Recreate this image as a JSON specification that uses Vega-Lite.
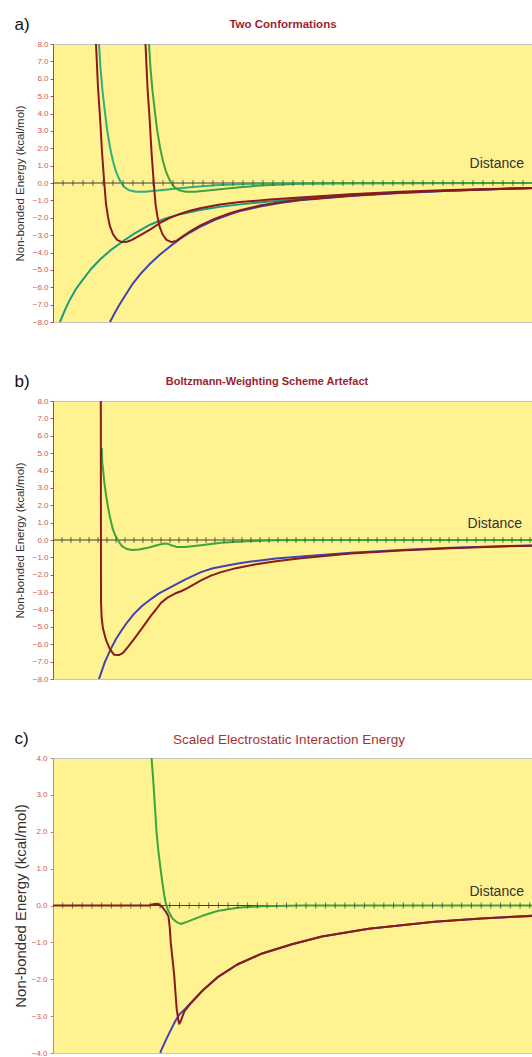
{
  "$schema": "https://vega.github.io/schema/vega-lite/v6.json",
  "background": "white",
  "padding": {"left": 12, "top": 14, "right": 0, "bottom": 0},
  "spacing": 44,
  "config": {
    "font": "Liberation Sans",
    "view": {"fill": "#fff290", "stroke": "#c4c4c4", "strokeWidth": 1}
  },
  "datasets": {
    "a": [
      {"s":"elec1","t":0.6,"v":-8.2},{"s":"elec1","t":0.7,"v":-8.0},{"s":"elec1","t":1.2,"v":-7.3},{"s":"elec1","t":1.7,"v":-6.7},{"s":"elec1","t":2.3,"v":-6.1},{"s":"elec1","t":3.0,"v":-5.55},{"s":"elec1","t":3.8,"v":-4.95},{"s":"elec1","t":4.7,"v":-4.4},{"s":"elec1","t":5.8,"v":-3.85},{"s":"elec1","t":7.0,"v":-3.35},{"s":"elec1","t":8.3,"v":-2.85},{"s":"elec1","t":9.7,"v":-2.4},{"s":"elec1","t":11.2,"v":-2.05},{"s":"elec1","t":12.7,"v":-1.8},{"s":"elec1","t":14.7,"v":-1.55},{"s":"elec1","t":16.7,"v":-1.37},{"s":"elec1","t":18.7,"v":-1.23},{"s":"elec1","t":21.7,"v":-1.06},{"s":"elec1","t":24.7,"v":-0.92},{"s":"elec1","t":29.7,"v":-0.72},{"s":"elec1","t":34.7,"v":-0.56},{"s":"elec1","t":39.7,"v":-0.44},{"s":"elec1","t":44.7,"v":-0.34},{"s":"elec1","t":48,"v":-0.29},
      {"s":"elec2","t":5.6,"v":-8.2},{"s":"elec2","t":5.7,"v":-8.0},{"s":"elec2","t":6.2,"v":-7.45},{"s":"elec2","t":6.7,"v":-6.95},{"s":"elec2","t":7.3,"v":-6.4},{"s":"elec2","t":8.0,"v":-5.77},{"s":"elec2","t":8.8,"v":-5.2},{"s":"elec2","t":9.7,"v":-4.65},{"s":"elec2","t":10.7,"v":-4.12},{"s":"elec2","t":11.7,"v":-3.65},{"s":"elec2","t":12.7,"v":-3.22},{"s":"elec2","t":13.7,"v":-2.85},{"s":"elec2","t":14.7,"v":-2.52},{"s":"elec2","t":16.2,"v":-2.12},{"s":"elec2","t":17.7,"v":-1.8},{"s":"elec2","t":18.7,"v":-1.62},{"s":"elec2","t":20.7,"v":-1.35},{"s":"elec2","t":22.7,"v":-1.15},{"s":"elec2","t":24.7,"v":-1.0},{"s":"elec2","t":29.7,"v":-0.75},{"s":"elec2","t":34.7,"v":-0.57},{"s":"elec2","t":39.7,"v":-0.44},{"s":"elec2","t":44.7,"v":-0.35},{"s":"elec2","t":48,"v":-0.3},
      {"s":"vdw1","t":4.55,"v":9},{"s":"vdw1","t":4.6,"v":8},{"s":"vdw1","t":4.75,"v":6.6},{"s":"vdw1","t":4.95,"v":5.3},{"s":"vdw1","t":5.15,"v":4.3},{"s":"vdw1","t":5.4,"v":3.1},{"s":"vdw1","t":5.7,"v":2.05},{"s":"vdw1","t":6.0,"v":1.25},{"s":"vdw1","t":6.3,"v":0.65},{"s":"vdw1","t":6.7,"v":0.12},{"s":"vdw1","t":7.1,"v":-0.22},{"s":"vdw1","t":7.6,"v":-0.42},{"s":"vdw1","t":8.3,"v":-0.5},{"s":"vdw1","t":9.2,"v":-0.5},{"s":"vdw1","t":10.2,"v":-0.45},{"s":"vdw1","t":11.7,"v":-0.36},{"s":"vdw1","t":13.7,"v":-0.24},{"s":"vdw1","t":16.2,"v":-0.13},{"s":"vdw1","t":19.7,"v":-0.05},{"s":"vdw1","t":24.7,"v":-0.01},{"s":"vdw1","t":48,"v":0},
      {"s":"vdw2","t":9.55,"v":9},{"s":"vdw2","t":9.6,"v":8},{"s":"vdw2","t":9.75,"v":6.6},{"s":"vdw2","t":9.95,"v":5.3},{"s":"vdw2","t":10.15,"v":4.3},{"s":"vdw2","t":10.4,"v":3.1},{"s":"vdw2","t":10.7,"v":2.05},{"s":"vdw2","t":11.0,"v":1.25},{"s":"vdw2","t":11.3,"v":0.65},{"s":"vdw2","t":11.7,"v":0.12},{"s":"vdw2","t":12.1,"v":-0.22},{"s":"vdw2","t":12.6,"v":-0.42},{"s":"vdw2","t":13.3,"v":-0.5},{"s":"vdw2","t":14.2,"v":-0.5},{"s":"vdw2","t":15.2,"v":-0.45},{"s":"vdw2","t":16.7,"v":-0.36},{"s":"vdw2","t":18.7,"v":-0.24},{"s":"vdw2","t":21.2,"v":-0.13},{"s":"vdw2","t":24.7,"v":-0.05},{"s":"vdw2","t":29.7,"v":-0.01},{"s":"vdw2","t":48,"v":0},
      {"s":"total1","t":4.25,"v":9},{"s":"total1","t":4.3,"v":8},{"s":"total1","t":4.5,"v":5.5},{"s":"total1","t":4.7,"v":3.8},{"s":"total1","t":4.9,"v":1.8},{"s":"total1","t":5.1,"v":0.2},{"s":"total1","t":5.3,"v":-1.2},{"s":"total1","t":5.5,"v":-1.95},{"s":"total1","t":5.7,"v":-2.5},{"s":"total1","t":6.0,"v":-2.95},{"s":"total1","t":6.4,"v":-3.27},{"s":"total1","t":6.9,"v":-3.4},{"s":"total1","t":7.4,"v":-3.38},{"s":"total1","t":7.9,"v":-3.27},{"s":"total1","t":8.7,"v":-3.02},{"s":"total1","t":9.7,"v":-2.68},{"s":"total1","t":10.7,"v":-2.3},{"s":"total1","t":11.7,"v":-2.0},{"s":"total1","t":12.7,"v":-1.78},{"s":"total1","t":13.7,"v":-1.6},{"s":"total1","t":14.7,"v":-1.45},{"s":"total1","t":16.7,"v":-1.24},{"s":"total1","t":18.7,"v":-1.1},{"s":"total1","t":21.7,"v":-0.95},{"s":"total1","t":24.7,"v":-0.83},{"s":"total1","t":29.7,"v":-0.65},{"s":"total1","t":34.7,"v":-0.51},{"s":"total1","t":39.7,"v":-0.41},{"s":"total1","t":44.7,"v":-0.33},{"s":"total1","t":48,"v":-0.28},
      {"s":"total2","t":9.2,"v":9},{"s":"total2","t":9.25,"v":8},{"s":"total2","t":9.45,"v":5.5},{"s":"total2","t":9.65,"v":3.8},{"s":"total2","t":9.85,"v":1.8},{"s":"total2","t":10.05,"v":0.2},{"s":"total2","t":10.25,"v":-1.2},{"s":"total2","t":10.45,"v":-1.95},{"s":"total2","t":10.65,"v":-2.5},{"s":"total2","t":10.95,"v":-2.95},{"s":"total2","t":11.35,"v":-3.27},{"s":"total2","t":11.85,"v":-3.4},{"s":"total2","t":12.35,"v":-3.33},{"s":"total2","t":13.0,"v":-3.05},{"s":"total2","t":13.8,"v":-2.75},{"s":"total2","t":14.7,"v":-2.45},{"s":"total2","t":16.2,"v":-2.05},{"s":"total2","t":17.7,"v":-1.74},{"s":"total2","t":18.7,"v":-1.57},{"s":"total2","t":20.7,"v":-1.3},{"s":"total2","t":22.7,"v":-1.11},{"s":"total2","t":24.7,"v":-0.97},{"s":"total2","t":29.7,"v":-0.73},{"s":"total2","t":34.7,"v":-0.55},{"s":"total2","t":39.7,"v":-0.43},{"s":"total2","t":44.7,"v":-0.34},{"s":"total2","t":48,"v":-0.29}
    ],
    "b": [
      {"s":"elec","t":4.5,"v":-8.3},{"s":"elec","t":4.6,"v":-8.0},{"s":"elec","t":5.2,"v":-7.0},{"s":"elec","t":5.8,"v":-6.25},{"s":"elec","t":6.3,"v":-5.7},{"s":"elec","t":6.8,"v":-5.25},{"s":"elec","t":7.4,"v":-4.75},{"s":"elec","t":8.1,"v":-4.25},{"s":"elec","t":8.9,"v":-3.8},{"s":"elec","t":9.8,"v":-3.4},{"s":"elec","t":10.6,"v":-3.07},{"s":"elec","t":11.5,"v":-2.8},{"s":"elec","t":12.4,"v":-2.52},{"s":"elec","t":13.3,"v":-2.25},{"s":"elec","t":14.8,"v":-1.85},{"s":"elec","t":16.0,"v":-1.63},{"s":"elec","t":17.3,"v":-1.48},{"s":"elec","t":18.5,"v":-1.35},{"s":"elec","t":19.8,"v":-1.24},{"s":"elec","t":22.3,"v":-1.07},{"s":"elec","t":24.8,"v":-0.95},{"s":"elec","t":29.8,"v":-0.73},{"s":"elec","t":34.8,"v":-0.57},{"s":"elec","t":39.8,"v":-0.45},{"s":"elec","t":44.8,"v":-0.36},{"s":"elec","t":48,"v":-0.32},
      {"s":"vdw","t":4.88,"v":5.3},{"s":"vdw","t":4.92,"v":4.5},{"s":"vdw","t":5.0,"v":4.1},{"s":"vdw","t":5.13,"v":3.33},{"s":"vdw","t":5.3,"v":2.6},{"s":"vdw","t":5.47,"v":2.0},{"s":"vdw","t":5.7,"v":1.3},{"s":"vdw","t":5.97,"v":0.65},{"s":"vdw","t":6.2,"v":0.3},{"s":"vdw","t":6.47,"v":0.0},{"s":"vdw","t":6.9,"v":-0.35},{"s":"vdw","t":7.4,"v":-0.52},{"s":"vdw","t":7.9,"v":-0.58},{"s":"vdw","t":8.6,"v":-0.55},{"s":"vdw","t":9.5,"v":-0.45},{"s":"vdw","t":10.4,"v":-0.3},{"s":"vdw","t":11.1,"v":-0.2},{"s":"vdw","t":11.5,"v":-0.22},{"s":"vdw","t":11.9,"v":-0.32},{"s":"vdw","t":12.4,"v":-0.4},{"s":"vdw","t":13.2,"v":-0.4},{"s":"vdw","t":14.8,"v":-0.3},{"s":"vdw","t":16.8,"v":-0.16},{"s":"vdw","t":19.3,"v":-0.07},{"s":"vdw","t":22.3,"v":-0.02},{"s":"vdw","t":26.8,"v":0},{"s":"vdw","t":48,"v":0},
      {"s":"total","t":4.78,"v":9},{"s":"total","t":4.8,"v":-3.6},{"s":"total","t":4.87,"v":-4.5},{"s":"total","t":5.0,"v":-5.1},{"s":"total","t":5.3,"v":-5.75},{"s":"total","t":5.7,"v":-6.3},{"s":"total","t":6.1,"v":-6.6},{"s":"total","t":6.6,"v":-6.62},{"s":"total","t":7.0,"v":-6.5},{"s":"total","t":7.5,"v":-6.15},{"s":"total","t":8.1,"v":-5.7},{"s":"total","t":9.0,"v":-5.0},{"s":"total","t":9.8,"v":-4.35},{"s":"total","t":10.3,"v":-4.0},{"s":"total","t":10.8,"v":-3.62},{"s":"total","t":11.5,"v":-3.3},{"s":"total","t":12.2,"v":-3.08},{"s":"total","t":12.8,"v":-2.95},{"s":"total","t":13.4,"v":-2.78},{"s":"total","t":14.1,"v":-2.55},{"s":"total","t":14.8,"v":-2.32},{"s":"total","t":15.8,"v":-2.05},{"s":"total","t":16.8,"v":-1.85},{"s":"total","t":18.3,"v":-1.62},{"s":"total","t":20.3,"v":-1.4},{"s":"total","t":22.3,"v":-1.22},{"s":"total","t":24.8,"v":-1.05},{"s":"total","t":29.8,"v":-0.78},{"s":"total","t":34.8,"v":-0.6},{"s":"total","t":39.8,"v":-0.47},{"s":"total","t":44.8,"v":-0.37},{"s":"total","t":48,"v":-0.33}
    ],
    "c": [
      {"s":"elecc","t":11.0,"v":-4.1},{"s":"elecc","t":11.08,"v":-3.95},{"s":"elecc","t":11.6,"v":-3.65},{"s":"elecc","t":12.1,"v":-3.38},{"s":"elecc","t":12.6,"v":-3.12},{"s":"elecc","t":13.0,"v":-2.95},{"s":"elecc","t":13.5,"v":-2.83},{"s":"elecc","t":14.0,"v":-2.68},{"s":"elecc","t":15.4,"v":-2.3},{"s":"elecc","t":16.89,"v":-1.95},{"s":"elecc","t":18.94,"v":-1.6},{"s":"elecc","t":21.49,"v":-1.3},{"s":"elecc","t":24.56,"v":-1.05},{"s":"elecc","t":27.64,"v":-0.84},{"s":"elecc","t":32.45,"v":-0.63},{"s":"elecc","t":39.2,"v":-0.44},{"s":"elecc","t":44.01,"v":-0.35},{"s":"elecc","t":49.33,"v":-0.28},
      {"s":"vdwc","t":10.08,"v":4.3},{"s":"vdwc","t":10.13,"v":4.0},{"s":"vdwc","t":10.27,"v":3.5},{"s":"vdwc","t":10.4,"v":3.0},{"s":"vdwc","t":10.52,"v":2.5},{"s":"vdwc","t":10.64,"v":2.0},{"s":"vdwc","t":10.82,"v":1.5},{"s":"vdwc","t":11.05,"v":1.0},{"s":"vdwc","t":11.25,"v":0.6},{"s":"vdwc","t":11.45,"v":0.25},{"s":"vdwc","t":11.6,"v":0.05},{"s":"vdwc","t":11.85,"v":-0.15},{"s":"vdwc","t":12.28,"v":-0.35},{"s":"vdwc","t":12.7,"v":-0.45},{"s":"vdwc","t":13.13,"v":-0.5},{"s":"vdwc","t":13.9,"v":-0.43},{"s":"vdwc","t":15.35,"v":-0.28},{"s":"vdwc","t":16.89,"v":-0.15},{"s":"vdwc","t":18.94,"v":-0.06},{"s":"vdwc","t":21.49,"v":-0.02},{"s":"vdwc","t":25.59,"v":0},{"s":"vdwc","t":49.33,"v":0},
      {"s":"totalc","t":0,"v":0},{"s":"totalc","t":9.9,"v":0},{"s":"totalc","t":10.4,"v":0.04},{"s":"totalc","t":10.75,"v":0.05},{"s":"totalc","t":11.2,"v":-0.03},{"s":"totalc","t":11.6,"v":-0.17},{"s":"totalc","t":11.87,"v":-0.3},{"s":"totalc","t":12.0,"v":-0.6},{"s":"totalc","t":12.1,"v":-1.0},{"s":"totalc","t":12.28,"v":-1.45},{"s":"totalc","t":12.46,"v":-1.9},{"s":"totalc","t":12.7,"v":-2.78},{"s":"totalc","t":12.9,"v":-3.14},{"s":"totalc","t":12.97,"v":-3.21},{"s":"totalc","t":13.1,"v":-3.15},{"s":"totalc","t":13.5,"v":-2.87},{"s":"totalc","t":14.0,"v":-2.7},{"s":"totalc","t":15.4,"v":-2.3},{"s":"totalc","t":16.89,"v":-1.95},{"s":"totalc","t":18.94,"v":-1.6},{"s":"totalc","t":21.49,"v":-1.3},{"s":"totalc","t":24.56,"v":-1.05},{"s":"totalc","t":27.64,"v":-0.84},{"s":"totalc","t":32.45,"v":-0.63},{"s":"totalc","t":39.2,"v":-0.44},{"s":"totalc","t":44.01,"v":-0.35},{"s":"totalc","t":49.33,"v":-0.28}
    ],
    "ticksA": [{"t":1},{"t":2},{"t":3},{"t":4},{"t":5},{"t":6},{"t":7},{"t":8},{"t":9},{"t":10},{"t":11},{"t":12},{"t":13},{"t":14},{"t":15},{"t":16},{"t":17},{"t":18},{"t":19},{"t":20},{"t":21},{"t":22},{"t":23},{"t":24},{"t":25},{"t":26},{"t":27},{"t":28},{"t":29},{"t":30},{"t":31},{"t":32},{"t":33},{"t":34},{"t":35},{"t":36},{"t":37},{"t":38},{"t":39},{"t":40},{"t":41},{"t":42},{"t":43},{"t":44},{"t":45},{"t":46},{"t":47}],
    "ticksB": [{"t":0.9},{"t":1.8},{"t":2.7},{"t":3.6},{"t":4.5},{"t":5.4},{"t":6.3},{"t":7.2},{"t":8.1},{"t":9.0},{"t":9.9},{"t":10.8},{"t":11.7},{"t":12.6},{"t":13.5},{"t":14.4},{"t":15.3},{"t":16.2},{"t":17.1},{"t":18.0},{"t":18.9},{"t":19.8},{"t":20.7},{"t":21.6},{"t":22.5},{"t":23.4},{"t":24.3},{"t":25.2},{"t":26.1},{"t":27.0},{"t":27.9},{"t":28.8},{"t":29.7},{"t":30.6},{"t":31.5},{"t":32.4},{"t":33.3},{"t":34.2},{"t":35.1},{"t":36.0},{"t":36.9},{"t":37.8},{"t":38.7},{"t":39.6},{"t":40.5},{"t":41.4},{"t":42.3},{"t":43.2},{"t":44.1},{"t":45.0},{"t":45.9},{"t":46.8},{"t":47.7}],
    "ticksC": [{"t":1},{"t":2},{"t":3},{"t":4},{"t":5},{"t":6},{"t":7},{"t":8},{"t":9},{"t":10},{"t":11},{"t":12},{"t":13},{"t":14},{"t":15},{"t":16},{"t":17},{"t":18},{"t":19},{"t":20},{"t":21},{"t":22},{"t":23},{"t":24},{"t":25},{"t":26},{"t":27},{"t":28},{"t":29},{"t":30},{"t":31},{"t":32},{"t":33},{"t":34},{"t":35},{"t":36},{"t":37},{"t":38},{"t":39},{"t":40},{"t":41},{"t":42},{"t":43},{"t":44},{"t":45},{"t":46},{"t":47},{"t":48},{"t":49}]
  },
  "vconcat": [
    {
      "width": 480, "height": 278,
      "title": {"text": "Two Conformations", "fontSize": 11.5, "fontWeight": "bold", "color": "#9c1f30", "anchor": "middle", "frame": "group", "dx": -10, "offset": -24, "baseline": "alphabetic"},
      "layer": [
        {"data": {"values": [{}]}, "mark": {"type": "rule", "color": "#3c3c3c", "strokeWidth": 1},
         "encoding": {"y": {"datum": 0, "type": "quantitative", "scale": {"domain": [-8, 8], "nice": false},
           "axis": {"values": [-8,-7,-6,-5,-4,-3,-2,-1,0,1,2,3,4,5,6,7,8], "format": ".1f", "grid": false, "domainColor": "#b04848", "tickColor": "#c0504d", "tickSize": 3, "labelColor": "#c65a5a", "labelFontSize": 8, "labelPadding": 2, "labelFlush": false, "labelOverlap": false, "title": "Non-bonded Energy (kcal/mol)", "titleFontSize": 11.5, "titleFontWeight": "normal", "titleColor": "#333333", "titlePadding": 7}}}},
        {"data": {"name": "a"}, "mark": {"type": "line", "strokeWidth": 2, "clip": true, "strokeJoin": "round"},
         "encoding": {
           "x": {"field": "t", "type": "quantitative", "scale": {"domain": [0, 48], "nice": false, "zero": false},
             "axis": {"orient": "top", "domain": false, "ticks": false, "labels": false, "grid": false, "title": "a)", "titleFontSize": 17, "titleFontWeight": "normal", "titleColor": "#111111", "titleAlign": "left", "titleAnchor": "start", "titleBaseline": "alphabetic", "titleAngle": 0, "titleX": -39, "titleY": -15}},
           "y": {"field": "v", "type": "quantitative", "scale": {"domain": [-8, 8], "nice": false},
             "axis": {"values": [-8,-7,-6,-5,-4,-3,-2,-1,0,1,2,3,4,5,6,7,8], "format": ".1f", "grid": false, "domainColor": "#b04848", "tickColor": "#c0504d", "tickSize": 3, "labelColor": "#c65a5a", "labelFontSize": 8, "labelPadding": 2, "labelFlush": false, "labelOverlap": false, "title": "Non-bonded Energy (kcal/mol)", "titleFontSize": 11.5, "titleFontWeight": "normal", "titleColor": "#333333", "titlePadding": 7}},
           "color": {"field": "s", "type": "nominal", "legend": null,
             "scale": {"domain": ["elec1","elec2","vdw1","vdw2","total1","total2","elec","vdw","total","elecc","vdwc","totalc"],
                       "range": ["#1b9a82","#4343b0","#2eb07a","#3ea23e","#8b1a1a","#8b1a1a","#4343b0","#3ca63c","#8b1a1a","#4343b0","#3ca63c","#8b1a1a"]}}}},
        {"data": {"name": "ticksA"}, "mark": {"type": "tick", "orient": "vertical", "color": "#333333", "size": 6, "thickness": 1},
         "encoding": {
           "x": {"field": "t", "type": "quantitative", "scale": {"domain": [0, 48], "nice": false, "zero": false},
             "axis": {"orient": "top", "domain": false, "ticks": false, "labels": false, "grid": false, "title": "a)", "titleFontSize": 17, "titleFontWeight": "normal", "titleColor": "#111111", "titleAlign": "left", "titleAnchor": "start", "titleBaseline": "alphabetic", "titleAngle": 0, "titleX": -39, "titleY": -15}},
           "y": {"datum": 0, "type": "quantitative", "scale": {"domain": [-8, 8], "nice": false},
             "axis": {"values": [-8,-7,-6,-5,-4,-3,-2,-1,0,1,2,3,4,5,6,7,8], "format": ".1f", "grid": false, "domainColor": "#b04848", "tickColor": "#c0504d", "tickSize": 3, "labelColor": "#c65a5a", "labelFontSize": 8, "labelPadding": 2, "labelFlush": false, "labelOverlap": false, "title": "Non-bonded Energy (kcal/mol)", "titleFontSize": 11.5, "titleFontWeight": "normal", "titleColor": "#333333", "titlePadding": 7}}}},
        {"data": {"values": [{}]}, "mark": {"type": "text", "text": "Distance", "align": "right", "baseline": "alphabetic", "fontSize": 14, "color": "#333333"},
         "encoding": {
           "x": {"datum": 47.1, "type": "quantitative", "scale": {"domain": [0, 48], "nice": false, "zero": false},
             "axis": {"orient": "top", "domain": false, "ticks": false, "labels": false, "grid": false, "title": "a)", "titleFontSize": 17, "titleFontWeight": "normal", "titleColor": "#111111", "titleAlign": "left", "titleAnchor": "start", "titleBaseline": "alphabetic", "titleAngle": 0, "titleX": -39, "titleY": -15}},
           "y": {"datum": 0.86, "type": "quantitative", "scale": {"domain": [-8, 8], "nice": false},
             "axis": {"values": [-8,-7,-6,-5,-4,-3,-2,-1,0,1,2,3,4,5,6,7,8], "format": ".1f", "grid": false, "domainColor": "#b04848", "tickColor": "#c0504d", "tickSize": 3, "labelColor": "#c65a5a", "labelFontSize": 8, "labelPadding": 2, "labelFlush": false, "labelOverlap": false, "title": "Non-bonded Energy (kcal/mol)", "titleFontSize": 11.5, "titleFontWeight": "normal", "titleColor": "#333333", "titlePadding": 7}}}}
      ]
    },
    {
      "width": 480, "height": 278,
      "title": {"text": "Boltzmann-Weighting Scheme Artefact", "fontSize": 11, "fontWeight": "bold", "color": "#9c1f30", "anchor": "middle", "frame": "group", "dx": -26, "offset": -24, "baseline": "alphabetic"},
      "layer": [
        {"data": {"values": [{}]}, "mark": {"type": "rule", "color": "#3c3c3c", "strokeWidth": 1},
         "encoding": {"y": {"datum": 0, "type": "quantitative", "scale": {"domain": [-8, 8], "nice": false},
           "axis": {"values": [-8,-7,-6,-5,-4,-3,-2,-1,0,1,2,3,4,5,6,7,8], "format": ".1f", "grid": false, "domainColor": "#b04848", "tickColor": "#c0504d", "tickSize": 3, "labelColor": "#c65a5a", "labelFontSize": 8, "labelPadding": 2, "labelFlush": false, "labelOverlap": false, "title": "Non-bonded Energy (kcal/mol)", "titleFontSize": 11.5, "titleFontWeight": "normal", "titleColor": "#333333", "titlePadding": 7}}}},
        {"data": {"name": "b"}, "mark": {"type": "line", "strokeWidth": 2, "clip": true, "strokeJoin": "round"},
         "encoding": {
           "x": {"field": "t", "type": "quantitative", "scale": {"domain": [0, 48], "nice": false, "zero": false},
             "axis": {"orient": "top", "domain": false, "ticks": false, "labels": false, "grid": false, "title": "b)", "titleFontSize": 17, "titleFontWeight": "normal", "titleColor": "#111111", "titleAlign": "left", "titleAnchor": "start", "titleBaseline": "alphabetic", "titleAngle": 0, "titleX": -39, "titleY": -15}},
           "y": {"field": "v", "type": "quantitative", "scale": {"domain": [-8, 8], "nice": false},
             "axis": {"values": [-8,-7,-6,-5,-4,-3,-2,-1,0,1,2,3,4,5,6,7,8], "format": ".1f", "grid": false, "domainColor": "#b04848", "tickColor": "#c0504d", "tickSize": 3, "labelColor": "#c65a5a", "labelFontSize": 8, "labelPadding": 2, "labelFlush": false, "labelOverlap": false, "title": "Non-bonded Energy (kcal/mol)", "titleFontSize": 11.5, "titleFontWeight": "normal", "titleColor": "#333333", "titlePadding": 7}},
           "color": {"field": "s", "type": "nominal", "legend": null,
             "scale": {"domain": ["elec1","elec2","vdw1","vdw2","total1","total2","elec","vdw","total","elecc","vdwc","totalc"],
                       "range": ["#1b9a82","#4343b0","#2eb07a","#3ea23e","#8b1a1a","#8b1a1a","#4343b0","#3ca63c","#8b1a1a","#4343b0","#3ca63c","#8b1a1a"]}}}},
        {"data": {"name": "ticksB"}, "mark": {"type": "tick", "orient": "vertical", "color": "#333333", "size": 6, "thickness": 1},
         "encoding": {
           "x": {"field": "t", "type": "quantitative", "scale": {"domain": [0, 48], "nice": false, "zero": false},
             "axis": {"orient": "top", "domain": false, "ticks": false, "labels": false, "grid": false, "title": "b)", "titleFontSize": 17, "titleFontWeight": "normal", "titleColor": "#111111", "titleAlign": "left", "titleAnchor": "start", "titleBaseline": "alphabetic", "titleAngle": 0, "titleX": -39, "titleY": -15}},
           "y": {"datum": 0, "type": "quantitative", "scale": {"domain": [-8, 8], "nice": false},
             "axis": {"values": [-8,-7,-6,-5,-4,-3,-2,-1,0,1,2,3,4,5,6,7,8], "format": ".1f", "grid": false, "domainColor": "#b04848", "tickColor": "#c0504d", "tickSize": 3, "labelColor": "#c65a5a", "labelFontSize": 8, "labelPadding": 2, "labelFlush": false, "labelOverlap": false, "title": "Non-bonded Energy (kcal/mol)", "titleFontSize": 11.5, "titleFontWeight": "normal", "titleColor": "#333333", "titlePadding": 7}}}},
        {"data": {"values": [{}]}, "mark": {"type": "text", "text": "Distance", "align": "right", "baseline": "alphabetic", "fontSize": 14, "color": "#333333"},
         "encoding": {
           "x": {"datum": 46.9, "type": "quantitative", "scale": {"domain": [0, 48], "nice": false, "zero": false},
             "axis": {"orient": "top", "domain": false, "ticks": false, "labels": false, "grid": false, "title": "b)", "titleFontSize": 17, "titleFontWeight": "normal", "titleColor": "#111111", "titleAlign": "left", "titleAnchor": "start", "titleBaseline": "alphabetic", "titleAngle": 0, "titleX": -39, "titleY": -15}},
           "y": {"datum": 0.7, "type": "quantitative", "scale": {"domain": [-8, 8], "nice": false},
             "axis": {"values": [-8,-7,-6,-5,-4,-3,-2,-1,0,1,2,3,4,5,6,7,8], "format": ".1f", "grid": false, "domainColor": "#b04848", "tickColor": "#c0504d", "tickSize": 3, "labelColor": "#c65a5a", "labelFontSize": 8, "labelPadding": 2, "labelFlush": false, "labelOverlap": false, "title": "Non-bonded Energy (kcal/mol)", "titleFontSize": 11.5, "titleFontWeight": "normal", "titleColor": "#333333", "titlePadding": 7}}}}
      ]
    },
    {
      "width": 480, "height": 295,
      "title": {"text": "Scaled Electrostatic Interaction Energy", "fontSize": 13.5, "fontWeight": "normal", "color": "#a63434", "anchor": "middle", "frame": "group", "dx": -4, "offset": -28, "baseline": "alphabetic"},
      "layer": [
        {"data": {"values": [{}]}, "mark": {"type": "rule", "color": "#3c3c3c", "strokeWidth": 1},
         "encoding": {"y": {"datum": 0, "type": "quantitative", "scale": {"domain": [-4, 4], "nice": false},
           "axis": {"values": [-4,-3,-2,-1,0,1,2,3,4], "format": ".1f", "grid": false, "domainColor": "#d4876a", "tickColor": "#d4876a", "tickSize": 3, "labelColor": "#d45a4a", "labelFontSize": 8, "labelPadding": 3, "labelFlush": false, "labelOverlap": false, "title": "Non-bonded Energy (kcal/mol)", "titleFontSize": 15, "titleFontWeight": "normal", "titleColor": "#333333", "titlePadding": 3}}}},
        {"data": {"name": "c"}, "mark": {"type": "line", "strokeWidth": 2, "clip": true, "strokeJoin": "round"},
         "encoding": {
           "x": {"field": "t", "type": "quantitative", "scale": {"domain": [0, 49.33], "nice": false, "zero": false},
             "axis": {"orient": "top", "domain": false, "ticks": false, "labels": false, "grid": false, "title": "c)", "titleFontSize": 17, "titleFontWeight": "normal", "titleColor": "#111111", "titleAlign": "left", "titleAnchor": "start", "titleBaseline": "alphabetic", "titleAngle": 0, "titleX": -39, "titleY": -15}},
           "y": {"field": "v", "type": "quantitative", "scale": {"domain": [-4, 4], "nice": false},
             "axis": {"values": [-4,-3,-2,-1,0,1,2,3,4], "format": ".1f", "grid": false, "domainColor": "#d4876a", "tickColor": "#d4876a", "tickSize": 3, "labelColor": "#d45a4a", "labelFontSize": 8, "labelPadding": 3, "labelFlush": false, "labelOverlap": false, "title": "Non-bonded Energy (kcal/mol)", "titleFontSize": 15, "titleFontWeight": "normal", "titleColor": "#333333", "titlePadding": 3}},
           "color": {"field": "s", "type": "nominal", "legend": null,
             "scale": {"domain": ["elec1","elec2","vdw1","vdw2","total1","total2","elec","vdw","total","elecc","vdwc","totalc"],
                       "range": ["#1b9a82","#4343b0","#2eb07a","#3ea23e","#8b1a1a","#8b1a1a","#4343b0","#3ca63c","#8b1a1a","#4343b0","#3ca63c","#8b1a1a"]}}}},
        {"data": {"name": "ticksC"}, "mark": {"type": "tick", "orient": "vertical", "color": "#333333", "size": 6, "thickness": 1},
         "encoding": {
           "x": {"field": "t", "type": "quantitative", "scale": {"domain": [0, 49.33], "nice": false, "zero": false},
             "axis": {"orient": "top", "domain": false, "ticks": false, "labels": false, "grid": false, "title": "c)", "titleFontSize": 17, "titleFontWeight": "normal", "titleColor": "#111111", "titleAlign": "left", "titleAnchor": "start", "titleBaseline": "alphabetic", "titleAngle": 0, "titleX": -39, "titleY": -15}},
           "y": {"datum": 0, "type": "quantitative", "scale": {"domain": [-4, 4], "nice": false},
             "axis": {"values": [-4,-3,-2,-1,0,1,2,3,4], "format": ".1f", "grid": false, "domainColor": "#d4876a", "tickColor": "#d4876a", "tickSize": 3, "labelColor": "#d45a4a", "labelFontSize": 8, "labelPadding": 3, "labelFlush": false, "labelOverlap": false, "title": "Non-bonded Energy (kcal/mol)", "titleFontSize": 15, "titleFontWeight": "normal", "titleColor": "#333333", "titlePadding": 3}}}},
        {"data": {"values": [{}]}, "mark": {"type": "text", "text": "Distance", "align": "right", "baseline": "alphabetic", "fontSize": 14, "color": "#333333"},
         "encoding": {
           "x": {"datum": 48.4, "type": "quantitative", "scale": {"domain": [0, 49.33], "nice": false, "zero": false},
             "axis": {"orient": "top", "domain": false, "ticks": false, "labels": false, "grid": false, "title": "c)", "titleFontSize": 17, "titleFontWeight": "normal", "titleColor": "#111111", "titleAlign": "left", "titleAnchor": "start", "titleBaseline": "alphabetic", "titleAngle": 0, "titleX": -39, "titleY": -15}},
           "y": {"datum": 0.26, "type": "quantitative", "scale": {"domain": [-4, 4], "nice": false},
             "axis": {"values": [-4,-3,-2,-1,0,1,2,3,4], "format": ".1f", "grid": false, "domainColor": "#d4876a", "tickColor": "#d4876a", "tickSize": 3, "labelColor": "#d45a4a", "labelFontSize": 8, "labelPadding": 3, "labelFlush": false, "labelOverlap": false, "title": "Non-bonded Energy (kcal/mol)", "titleFontSize": 15, "titleFontWeight": "normal", "titleColor": "#333333", "titlePadding": 3}}}}
      ]
    }
  ]
}
